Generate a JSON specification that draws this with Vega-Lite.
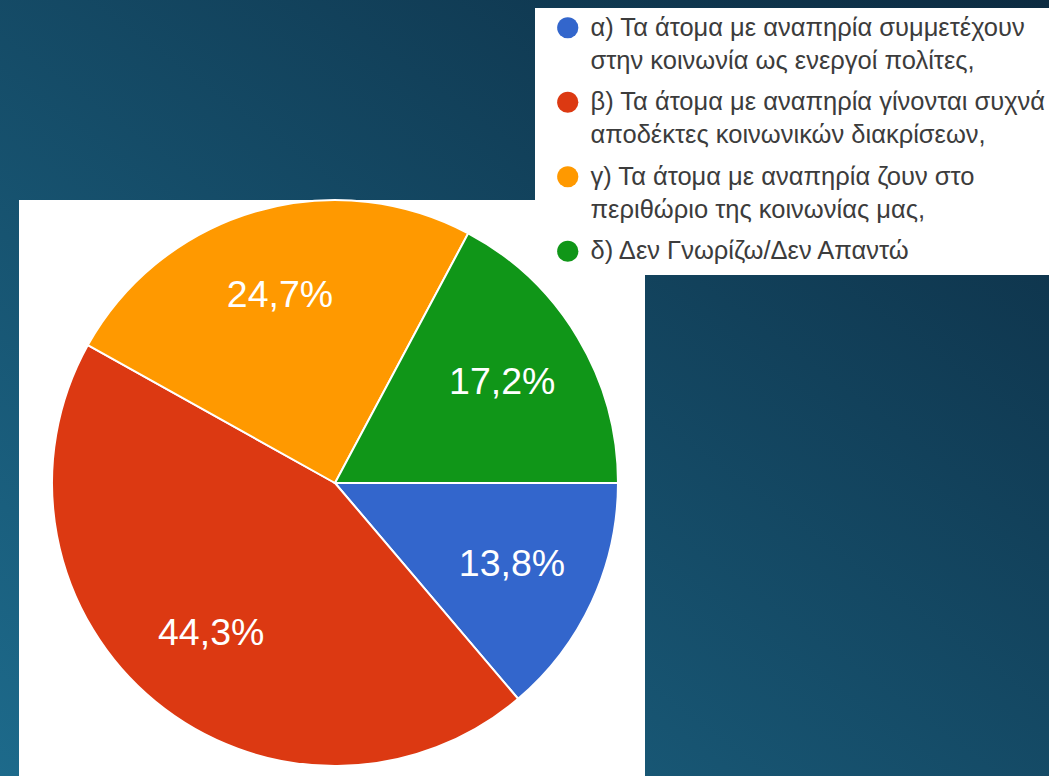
{
  "$schema": "https://vega.github.io/schema/vega-lite/v6.json",
  "width": 1049,
  "height": 776,
  "autosize": {"type": "none"},
  "padding": 0,
  "background": "#134a66",
  "config": {
    "view": {"stroke": null},
    "style": {"guide-label": {"lineHeight": 33, "dy": 8}}
  },
  "layer": [
    {
      "data": {"values": [{}]},
      "mark": {"type": "rect", "fill": {"gradient": "linear", "x1": 1, "y1": 0, "x2": 0, "y2": 1, "stops": [{"offset": 0, "color": "#0c2b41"}, {"offset": 1, "color": "#1d6a8b"}]}},
      "encoding": {
        "x": {"datum": 0, "type": "quantitative", "scale": {"domain": [0, 1049], "nice": false, "zero": false}, "axis": null},
        "x2": {"datum": 1049},
        "y": {"datum": 0, "type": "quantitative", "scale": {"domain": [0, 776], "nice": false, "zero": false, "reverse": true}, "axis": null},
        "y2": {"datum": 776}
      }
    },
    {
      "data": {"values": [{}]},
      "mark": {"type": "rect", "fill": "#ffffff"},
      "encoding": {
        "x": {"datum": 19, "type": "quantitative", "scale": {"domain": [0, 1049], "nice": false, "zero": false}, "axis": null},
        "x2": {"datum": 645},
        "y": {"datum": 200, "type": "quantitative", "scale": {"domain": [0, 776], "nice": false, "zero": false, "reverse": true}, "axis": null},
        "y2": {"datum": 776}
      }
    },
    {
      "data": {"values": [{}]},
      "mark": {"type": "rect", "fill": "#ffffff"},
      "encoding": {
        "x": {"datum": 535, "type": "quantitative", "scale": {"domain": [0, 1049], "nice": false, "zero": false}, "axis": null},
        "x2": {"datum": 1049},
        "y": {"datum": 8, "type": "quantitative", "scale": {"domain": [0, 776], "nice": false, "zero": false, "reverse": true}, "axis": null},
        "y2": {"datum": 275}
      }
    },
    {
      "data": {"values": [
        {"category": "α) Τα άτομα με αναπηρία συμμετέχουν\nστην κοινωνία ως ενεργοί πολίτες,", "value": 13.8, "label": "13,8%", "order": 1},
        {"category": "β) Τα άτομα με αναπηρία γίνονται συχνά\nαποδέκτες κοινωνικών διακρίσεων,", "value": 44.3, "label": "44,3%", "order": 2},
        {"category": "γ) Τα άτομα με αναπηρία ζουν στο\nπεριθώριο της κοινωνίας μας,", "value": 24.7, "label": "24,7%", "order": 3},
        {"category": "δ) Δεν Γνωρίζω/Δεν Απαντώ", "value": 17.2, "label": "17,2%", "order": 4}
      ]},
      "encoding": {
        "theta": {"field": "value", "type": "quantitative", "stack": true, "scale": {"range": [1.5707963, 7.8539816]}},
        "order": {"field": "order", "type": "quantitative"},
        "x": {"datum": 335, "type": "quantitative", "scale": {"domain": [0, 1049], "nice": false, "zero": false}, "axis": null},
        "y": {"datum": 483, "type": "quantitative", "scale": {"domain": [0, 776], "nice": false, "zero": false, "reverse": true}, "axis": null}
      },
      "layer": [
        {
          "mark": {"type": "arc", "radius": 283, "stroke": "#ffffff", "strokeWidth": 2},
          "encoding": {
            "color": {
              "field": "category",
              "type": "nominal",
              "scale": {"range": ["#3366cc", "#dc3912", "#ff9900", "#109618"]},
              "legend": {
                "title": null,
                "orient": "none",
                "legendX": 555,
                "legendY": 15,
                "padding": 0,
                "symbolType": "circle",
                "symbolSize": 450,
                "symbolStrokeWidth": 0,
                "labelFont": "Liberation Sans",
                "labelFontSize": 25.5,
                "labelColor": "#3c3c3c",
                "labelLimit": 700,
                "labelOffset": 10,
                "labelBaseline": "alphabetic",
                "rowPadding": 14.5,
                "labelExpr": "split(datum.label, '\\n')"
              }
            }
          }
        },
        {
          "mark": {"type": "text", "radius": 195, "font": "Liberation Sans", "fontSize": 37.5, "fill": "#ffffff", "align": "center", "baseline": "middle"},
          "encoding": {"text": {"field": "label"}}
        }
      ]
    }
  ]
}
